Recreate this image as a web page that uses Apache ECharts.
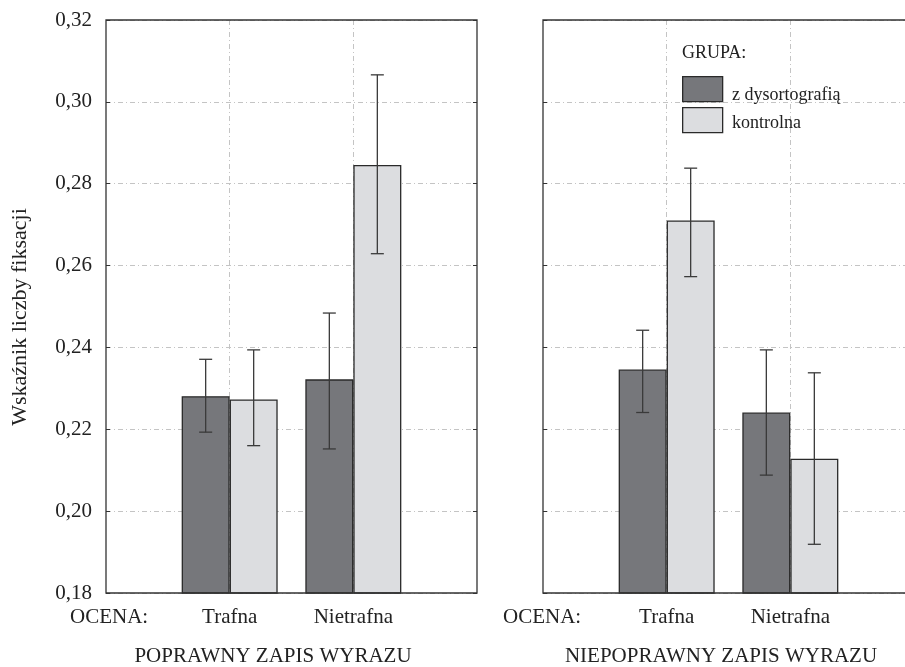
<!DOCTYPE html>
<html>
<head>
<meta charset="utf-8">
<script src="https://cdn.jsdelivr.net/npm/echarts@6/dist/echarts.min.js"></script>
<style>html,body{margin:0;padding:0;background:#fff;overflow:hidden;width:905px;height:667px}#c{width:920px;height:667px}</style>
</head>
<body>
<div id="c"></div>
<script>
// ---- data ----
const xCategories = ['', 'Trafna', 'Nietrafna', ''];
const groupNames = ['z dysortografią', 'kontrolna'];
const yTicks = { min: 0.18, max: 0.32, interval: 0.02 };
// Panel 1: POPRAWNY ZAPIS WYRAZU
const p1Dys = [0.2281, 0.2322];
const p1DysLo = [0.2193, 0.2152];
const p1DysHi = [0.2371, 0.2484];
const p1Kon = [0.2273, 0.2846];
const p1KonLo = [0.2160, 0.2629];
const p1KonHi = [0.2394, 0.3066];
// Panel 2: NIEPOPRAWNY ZAPIS WYRAZU
const p2Dys = [0.2346, 0.2241];
const p2DysLo = [0.2241, 0.2088];
const p2DysHi = [0.2442, 0.2394];
const p2Kon = [0.2710, 0.2128];
const p2KonLo = [0.2573, 0.1919];
const p2KonHi = [0.2838, 0.2338];

const FONT = 'Liberation Serif';
const TXT = '#222';
const DARK = '#76777b';
const LIGHT = '#dcdde0';
const BAR_W = 48;

function pad(arr) { return ['-'].concat(arr).concat(['-']); }
function errData(lo, hi) { return lo.map((l, i) => [i + 1, l, hi[i]]); }

function errSeries(lo, hi, axisIdx, offset) {
  return {
    type: 'custom',
    xAxisIndex: axisIdx, yAxisIndex: axisIdx === 0 ? 0 : 2,
    data: errData(lo, hi),
    encode: { x: 0, y: [1, 2] },
    z: 5,
    silent: true,
    renderItem: function (params, api) {
      const x = api.value(0);
      const a = api.coord([x, api.value(1)]);
      const b = api.coord([x, api.value(2)]);
      const cx = a[0] + offset;
      const hw = 6.5;
      const st = { stroke: '#3a3a3a', lineWidth: 1.3 };
      return {
        type: 'group',
        children: [
          { type: 'line', shape: { x1: cx, y1: a[1], x2: cx, y2: b[1] }, style: st },
          { type: 'line', shape: { x1: cx - hw, y1: a[1], x2: cx + hw, y2: a[1] }, style: st },
          { type: 'line', shape: { x1: cx - hw, y1: b[1], x2: cx + hw, y2: b[1] }, style: st }
        ]
      };
    }
  };
}

function barSeries(name, data, color, axisIdx) {
  return {
    name: name, type: 'bar',
    xAxisIndex: axisIdx, yAxisIndex: axisIdx === 0 ? 0 : 2,
    data: pad(data), barWidth: BAR_W, barGap: '0%',
    itemStyle: { color: color, borderColor: '#2a2a2a', borderWidth: 1.3 },
    silent: true
  };
}

const dashLine = { color: '#c4c4c4', type: [5, 3, 1, 3], width: 1 };

function xAxis(gi) {
  return {
    type: 'category', gridIndex: gi, data: xCategories, boundaryGap: false,
    axisLine: { show: false }, axisTick: { show: false },
    axisLabel: { color: TXT, fontFamily: FONT, fontSize: 21, margin: 14, interval: 0 },
    splitLine: { show: true, interval: (i) => i === 1 || i === 2, lineStyle: dashLine }
  };
}
function yAxis(gi, pos, showLabel, showSplit) {
  return {
    type: 'value', gridIndex: gi, position: pos,
    min: yTicks.min, max: yTicks.max, interval: yTicks.interval,
    axisLine: { show: false },
    axisTick: { show: true, inside: true, length: 4, lineStyle: { color: '#333' } },
    axisLabel: {
      show: showLabel, color: TXT, fontFamily: FONT, fontSize: 21, margin: 14,
      formatter: v => v.toFixed(2).replace('.', ',')
    },
    splitLine: showSplit ? { show: true, lineStyle: dashLine } : { show: false }
  };
}

const legendFont = '18px "Liberation Serif"';
const chart = echarts.init(document.getElementById('c'), null, { renderer: 'canvas' });
chart.setOption({
  animation: false,
  backgroundColor: '#fff',
  grid: [
    { left: 106, top: 20, width: 371, height: 573, show: true, z: 10, borderColor: '#333', borderWidth: 1.3, backgroundColor: 'transparent' },
    { left: 543, top: 20, width: 371, height: 573, show: true, z: 10, borderColor: '#333', borderWidth: 1.3, backgroundColor: 'transparent' }
  ],
  xAxis: [xAxis(0), xAxis(1)],
  yAxis: [yAxis(0, 'left', true, true), yAxis(0, 'right', false, false), yAxis(1, 'left', false, true)],
  graphic: [
    { type: 'text', left: 682, top: 44, style: { text: 'GRUPA:', font: legendFont, fill: TXT } },
    { type: 'rect', left: 682, top: 76, z: 20, shape: { width: 40, height: 25 }, style: { fill: DARK, stroke: '#2a2a2a', lineWidth: 1.3 } },
    { type: 'rect', left: 682, top: 107, z: 20, shape: { width: 40, height: 25 }, style: { fill: LIGHT, stroke: '#2a2a2a', lineWidth: 1.3 } },
    { type: 'text', x: 732, y: 95, z: 20, style: { text: groupNames[0], font: legendFont, fill: TXT, verticalAlign: 'middle' } },
    { type: 'text', x: 732, y: 123, z: 20, style: { text: groupNames[1], font: legendFont, fill: TXT, verticalAlign: 'middle' } },
    { type: 'text', left: 70, top: 607, style: { text: 'OCENA:', font: '21px "Liberation Serif"', fill: TXT } },
    { type: 'text', left: 503, top: 607, style: { text: 'OCENA:', font: '21px "Liberation Serif"', fill: TXT } },
    { type: 'text', x: 273, y: 656, style: { text: 'POPRAWNY ZAPIS WYRAZU', font: '21px "Liberation Serif"', fill: TXT, align: 'center', verticalAlign: 'middle' } },
    { type: 'text', x: 721, y: 656, style: { text: 'NIEPOPRAWNY ZAPIS WYRAZU', font: '21px "Liberation Serif"', fill: TXT, align: 'center', verticalAlign: 'middle' } },
    { type: 'text', x: 20, y: 317, rotation: Math.PI / 2, style: { text: 'Wskaźnik liczby fiksacji', font: '22px "Liberation Serif"', fill: TXT, align: 'center', verticalAlign: 'middle' } }
  ],
  series: [
    barSeries(groupNames[0], p1Dys, DARK, 0),
    barSeries(groupNames[1], p1Kon, LIGHT, 0),
    barSeries(groupNames[0], p2Dys, DARK, 1),
    barSeries(groupNames[1], p2Kon, LIGHT, 1),
    errSeries(p1DysLo, p1DysHi, 0, -BAR_W / 2),
    errSeries(p1KonLo, p1KonHi, 0, BAR_W / 2),
    errSeries(p2DysLo, p2DysHi, 1, -BAR_W / 2),
    errSeries(p2KonLo, p2KonHi, 1, BAR_W / 2)
  ]
});
</script>
</body>
</html>
